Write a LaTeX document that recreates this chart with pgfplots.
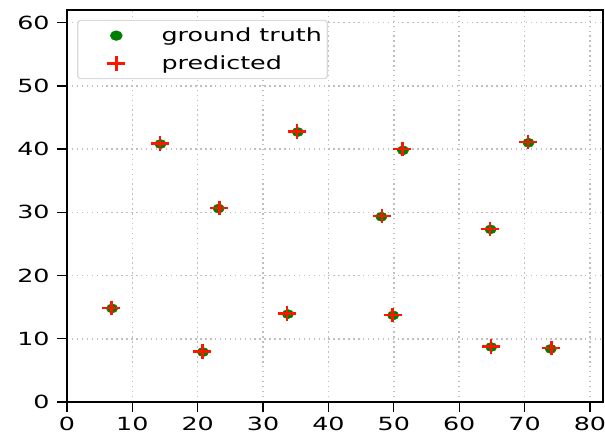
\documentclass[border=0pt]{standalone}
\usepackage{pgfplots}
\pgfplotsset{compat=1.18}
\usepackage{fontspec}
\setmainfont{DejaVu Sans}[FakeStretch=1.4]
\definecolor{gtgreen}{RGB}{0,128,0}
\definecolor{predred}{RGB}{255,20,0}
\begin{document}
\begin{tikzpicture}
\begin{axis}[
  scale only axis,
  width=402pt, height=294pt,
  xmin=0, xmax=82, ymin=0, ymax=62,
  xtick={0,10,...,80}, ytick={0,10,...,60},
  tick align=outside,
  major tick length=7.5pt,
  tick style={black, line width=1pt},
  xtick pos=bottom, ytick pos=left,
  axis line style={black, line width=1.1pt},
  grid=major,
  major grid style={black!25, line width=1.1pt, dash pattern=on 1.1pt off 2.6pt},
  font=\fontsize{13.6}{15}\selectfont,
  ticklabel style={font=\fontsize{13.6}{15}\selectfont},
  yticklabel style={xshift=-2pt},
  /pgf/number format/assume math mode=true,
  legend style={draw=black!15, rounded corners=2pt, line width=0.9pt,
    at={(0.019,0.975)}, anchor=north west, inner xsep=2pt, inner ysep=3.5pt,
    row sep=5pt, font=\fontsize{13.6}{15}\selectfont},
  legend cell align=left,
  legend image code/.code={\path (0pt,0pt) (57pt,0pt); \draw[#1] plot coordinates {(26pt,0pt)};},
]
\addplot[only marks, mark=*, mark size=3.4pt, draw=gtgreen, fill=gtgreen, mark options={xscale=1.25}] coordinates {
(14.3,40.8) (23.2,30.6) (35.3,42.7) (51.4,39.8) (70.6,41.0) (48.1,29.3) (64.8,27.3)
(6.9,14.8) (20.8,7.9) (33.8,13.9) (49.9,13.7) (64.9,8.7) (74.0,8.4)
};
\addlegendentry{ground truth}
\addplot[only marks, mark=+, mark size=5.4pt, draw=predred, line width=1.8pt, mark options={xscale=1.25}] coordinates {
(14.2,40.9) (23.3,30.7) (35.2,42.8) (51.3,40.0) (70.5,41.1) (48.2,29.4) (64.7,27.4)
(6.8,14.9) (20.7,8.0) (33.7,14.0) (49.8,13.8) (64.9,8.8) (74.1,8.5)
};
\addlegendentry{predicted}
\end{axis}
\pgfresetboundingbox
\path ([xshift=-50.25pt,yshift=-26.25pt]current axis.south west) rectangle ([xshift=1.5pt,yshift=7.5pt]current axis.north east);
\end{tikzpicture}
\end{document}
